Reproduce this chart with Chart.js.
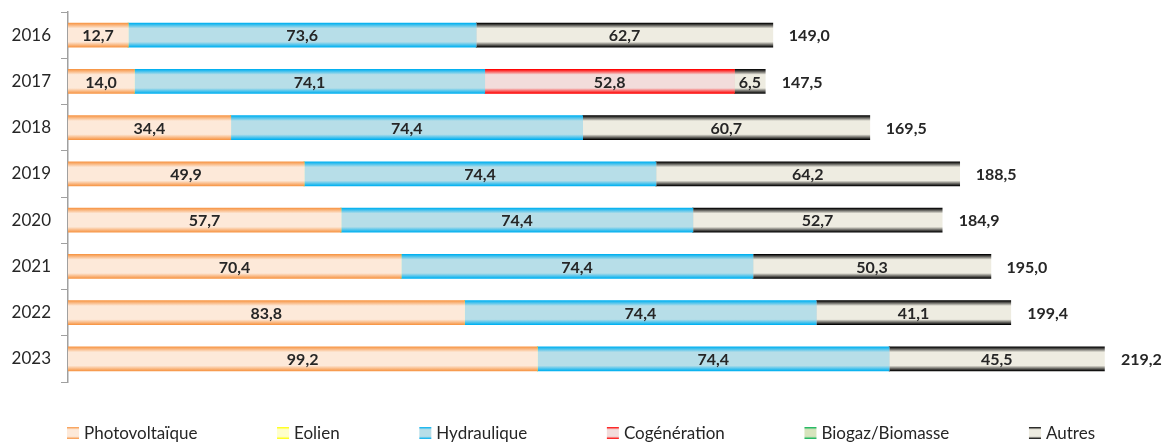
<!DOCTYPE html>
<html lang="fr">
<head>
    <meta charset="UTF-8">
    <title>Production par filière</title>
    <script src="https://cdn.jsdelivr.net/npm/chart.js"></script>
    <style>
        body { margin: 0; background: #fff; }
        .chart-box { width: 1167px; height: 443px; }
    </style>
</head>
<body>
    <div class="chart-box"><canvas id="barChart"></canvas></div>

    <script>
        const years = ['2016', '2017', '2018', '2019', '2020', '2021', '2022', '2023'];
        const photovoltaique = [12.7, 14.0, 34.4, 49.9, 57.7, 70.4, 83.8, 99.2];
        const eolien = [0, 0, 0, 0, 0, 0, 0, 0];
        const hydraulique = [73.6, 74.1, 74.4, 74.4, 74.4, 74.4, 74.4, 74.4];
        const cogeneration = [0, 52.8, 0, 0, 0, 0, 0, 0];
        const biogaz = [0, 0, 0, 0, 0, 0, 0, 0];
        const autres = [62.7, 6.5, 60.7, 64.2, 52.7, 50.3, 41.1, 45.5];
        const totals = [149.0, 147.5, 169.5, 188.5, 184.9, 195.0, 199.4, 219.2];

        const BAR_H = 24;
        const FONT = 'Lato, "Open Sans", sans-serif';
        const fmt = v => v.toFixed(1).replace('.', ',');

        // dark edge / light centre, like the original office gradients
        const palettes = {
            orange: ['#F79646', '#FDE9D9'],
            yellow: ['#FFFF00', '#FFFFCC'],
            blue:   ['#00B0F0', '#B7DEE8'],
            red:    ['#FF0000', '#F2DCDB'],
            green:  ['#00B050', '#D7E4BD'],
            black:  ['#000000', '#EEECE1']
        };

        function makeGradient(ctx, top, h, pal) {
            const g = ctx.createLinearGradient(0, top, 0, top + h);
            g.addColorStop(0, pal[0]);
            g.addColorStop(0.22, pal[1]);
            g.addColorStop(0.78, pal[1]);
            g.addColorStop(1, pal[0]);
            return g;
        }

        function barFill(pal) {
            return (c) => {
                const chart = c.chart;
                const y = chart.scales && chart.scales.y;
                if (!chart.chartArea || !y || c.dataIndex === undefined) return pal[1];
                const cy = y.getPixelForValue(c.dataIndex);
                return makeGradient(chart.ctx, cy - BAR_H / 2, BAR_H, pal);
            };
        }

        const series = [
            { label: 'Photovoltaïque', data: photovoltaique, pal: palettes.orange },
            { label: 'Eolien', data: eolien, pal: palettes.yellow },
            { label: 'Hydraulique', data: hydraulique, pal: palettes.blue },
            { label: 'Cogénération', data: cogeneration, pal: palettes.red },
            { label: 'Biogaz/Biomasse', data: biogaz, pal: palettes.green },
            { label: 'Autres', data: autres, pal: palettes.black }
        ];

        // values inside the bars + totals after the bars
        const labelsPlugin = {
            id: 'valueLabels',
            afterDatasetsDraw(chart) {
                const ctx = chart.ctx;
                ctx.save();
                ctx.font = 'bold 16px ' + FONT;
                ctx.fillStyle = '#262626';
                ctx.textBaseline = 'middle';
                ctx.textAlign = 'center';
                chart.data.datasets.forEach((ds, i) => {
                    const meta = chart.getDatasetMeta(i);
                    meta.data.forEach((bar, j) => {
                        const v = ds.data[j];
                        if (!v) return;
                        const p = bar.getProps(['x', 'y', 'base'], true);
                        ctx.fillText(fmt(v), (p.x + p.base) / 2, p.y + 1);
                    });
                });
                ctx.textAlign = 'left';
                const xs = chart.scales.x, ys = chart.scales.y;
                totals.forEach((t, j) => {
                    ctx.fillText(fmt(t), xs.getPixelForValue(t) + 16, ys.getPixelForValue(j) + 1);
                });
                ctx.restore();
            }
        };

        // bottom legend spread across the width
        const legendPlugin = {
            id: 'spreadLegend',
            afterDraw(chart) {
                const ctx = chart.ctx;
                ctx.save();
                ctx.font = '17px ' + FONT;
                ctx.textBaseline = 'middle';
                const box = 12, gapText = 5;
                const widths = series.map(s => box + gapText + ctx.measureText(s.label).width);
                const start = 67, end = 1095, cy = 433;
                const gap = (end - start - widths.reduce((a, b) => a + b, 0)) / (series.length - 1);
                let x = start;
                series.forEach((s, i) => {
                    ctx.fillStyle = makeGradient(ctx, cy - box / 2, box, s.pal);
                    ctx.fillRect(x, cy - box / 2, box, box);
                    ctx.fillStyle = '#262626';
                    ctx.fillText(s.label, x + box + gapText, cy + 1);
                    x += widths[i] + gap;
                });
                ctx.restore();
            }
        };

        new Chart(document.getElementById('barChart'), {
            type: 'bar',
            data: {
                labels: years,
                datasets: series.map(s => ({
                    label: s.label,
                    data: s.data,
                    backgroundColor: barFill(s.pal),
                    borderWidth: 0,
                    barThickness: BAR_H
                }))
            },
            options: {
                indexAxis: 'y',
                responsive: true,
                maintainAspectRatio: false,
                animation: false,
                layout: { padding: { top: 12, bottom: 61, left: 0, right: 11 } },
                plugins: {
                    legend: { display: false },
                    tooltip: { enabled: false }
                },
                scales: {
                    x: {
                        stacked: true,
                        display: false,
                        min: 0,
                        max: 230
                    },
                    y: {
                        stacked: true,
                        afterFit: (s) => {
                            s.width = 68;
                            s.paddingTop = 0;
                            s.paddingBottom = 0;
                        },
                        grid: {
                            offset: true,
                            drawOnChartArea: false,
                            drawTicks: true,
                            tickLength: 7,
                            color: '#A0A0A0'
                        },
                        border: { color: '#A0A0A0', width: 1.5 },
                        ticks: {
                            color: '#262626',
                            font: { family: FONT, size: 17 },
                            padding: 10
                        }
                    }
                }
            },
            plugins: [labelsPlugin, legendPlugin]
        });
    </script>
</body>
</html>
